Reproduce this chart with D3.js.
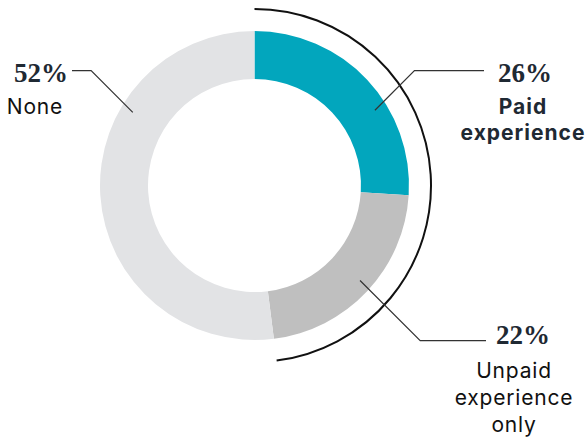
<!DOCTYPE html>
<html>
<head>
<meta charset="utf-8">
<script src="https://cdn.jsdelivr.net/npm/d3@7"></script>
<style>
  body { margin: 0; background: #fff; }
  svg { display: block; }
</style>
</head>
<body>
<svg id="chart" viewBox="0 0 587 438" width="587" height="438"></svg>
<script>
// data
const categories = ["Paid experience", "Unpaid experience only", "None"];
const values = [26, 22, 52];
const valueLabels = ["26%", "22%", "52%"];
const labelLines = [["Paid", "experience"], ["Unpaid", "experience", "only"], ["None"]];
const colors = ["#02a6bd", "#bfbfbf", "#e2e3e5"];

const svg = d3.select("#chart");
const cx = 254.5, cy = 185.5;
const innerR = 106.5, outerR = 154.5, bracketR = 176.5;

const pie = d3.pie().sort(null).value((d) => d.value);
const arcs = pie(categories.map((c, i) => ({ name: c, value: values[i], i })));

const arc = d3.arc().innerRadius(innerR).outerRadius(outerR);

const g = svg.append("g").attr("transform", `translate(${cx} ${cy})`);

g.selectAll("path.slice")
  .data(arcs)
  .enter()
  .append("path")
  .attr("class", "slice")
  .attr("d", arc)
  .attr("fill", (d) => colors[d.data.i]);

// bracket round the "any experience" share (first two slices)
const p = d3.path();
p.arc(0, 0, bracketR, arcs[0].startAngle - Math.PI / 2, arcs[1].endAngle - Math.PI / 2);
g.append("path")
  .attr("d", p.toString())
  .attr("fill", "none")
  .attr("stroke", "#111")
  .attr("stroke-width", 2);

// leader lines + labels
const layout = [
  { angle: 58, lineY: 70.7, lineEnd: 484, textX: 523, pctX: 525, pctY: 81.7, firstY: 114, lh: 26, bold: true },
  { angle: 132, lineY: 340.7, lineEnd: 486, textX: 514, pctX: 523, pctY: 344.3, firstY: 378, lh: 27, bold: false },
  { angle: 301, lineY: 70.7, lineEnd: 72, textX: 35, pctX: 41, pctY: 81.7, firstY: 114, lh: 26, bold: false },
];
const pointR = 142;

layout.forEach((l, i) => {
  const a = (l.angle * Math.PI) / 180;
  const x0 = cx + pointR * Math.sin(a);
  const y0 = cy - pointR * Math.cos(a);
  const dy = l.lineY - y0;
  const dir = Math.sign(l.lineEnd - x0);
  const ex = x0 + dir * Math.abs(dy);
  svg.append("polyline")
    .attr("points", `${x0},${y0} ${ex},${l.lineY} ${l.lineEnd},${l.lineY}`)
    .attr("fill", "none")
    .attr("stroke", "#333")
    .attr("stroke-width", 1.2);

  svg.append("text")
    .attr("x", l.pctX)
    .attr("y", l.pctY)
    .attr("text-anchor", "middle")
    .style("font-family", "'Liberation Serif', serif")
    .style("font-size", "27px")
    .style("font-weight", 700)
    .style("fill", "#1f2933")
    .text(valueLabels[i]);

  svg.append("g")
    .selectAll("text")
    .data(labelLines[i])
    .enter()
    .append("text")
    .attr("x", l.textX)
    .attr("y", (d, k) => l.firstY + k * l.lh)
    .attr("text-anchor", "middle")
    .style("font-family", "Inter, 'Noto Sans', sans-serif")
    .style("font-size", "21px")
    .style("letter-spacing", l.bold ? "1px" : "0.8px")
    .style("font-weight", l.bold ? 700 : 400)
    .style("fill", l.bold ? "#1f2933" : "#111")
    .text((d) => d);
});
</script>
</body>
</html>
